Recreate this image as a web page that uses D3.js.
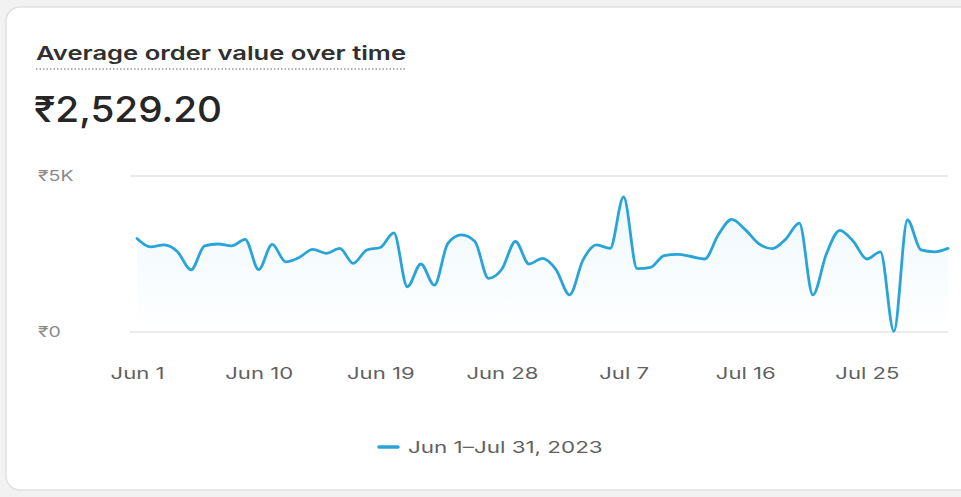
<!DOCTYPE html>
<html>
<head>
<meta charset="utf-8">
<script src="https://cdn.jsdelivr.net/npm/d3@7"></script>
<style>
  html, body { margin: 0; padding: 0; background: #f2f2f2; }
  svg { display: block; font-family: Inter, "Noto Sans", sans-serif; }
</style>
</head>
<body>
<svg id="chart" width="961" height="497"></svg>
<script>
// chart data
var title = 'Average order value over time';
var headline = '₹2,529.20';
var legendLabel = 'Jun 1–Jul 31, 2023';
var startDate = '2023-06-01';
var endDate = '2023-07-31';
var tickDates = ['2023-06-01', '2023-06-10', '2023-06-19', '2023-06-28', '2023-07-07', '2023-07-16', '2023-07-25'];
var yTicks = [0, 5000];
var yTickLabels = ['₹0', '₹5K'];
var orderValues = [
  3000, 2730, 2790, 2570, 1990, 2760, 2820, 2760, 2970, 2000,
  2810, 2250, 2390, 2650, 2520, 2680, 2200, 2630, 2710, 3180,
  1450, 2180, 1500, 2840, 3110, 2900, 1720, 2020, 2900, 2180,
  2360, 2000, 1190, 2310, 2790, 2680, 4330, 2030, 2070, 2450,
  2490, 2420, 2340, 3110, 3610, 3280, 2830, 2670, 2980, 3490,
  1190, 2500, 3260, 2900, 2340, 2570, 20, 3590, 2630, 2570,
  2680
];

var parse = d3.timeParse('%Y-%m-%d');
var days = d3.timeDay.range(parse(startDate), d3.timeDay.offset(parse(endDate), 1));
var data = days.map(function(d, i) { return {date: d, value: orderValues[i]}; });

var svg = d3.select('#chart');
var lineColor = '#29a4d9';

// the screenshot is wider than tall, so widen the glyphs to match
function stretch(sel, k) {
  sel.each(function() {
    var w = this.getComputedTextLength();
    d3.select(this).attr('textLength', w * k).attr('lengthAdjust', 'spacingAndGlyphs');
  });
}

// card
svg.append('rect')
  .attr('x', 6).attr('y', 7)
  .attr('width', 980).attr('height', 483)
  .attr('rx', 14)
  .attr('fill', '#fff')
  .attr('stroke', '#e1e1e1')
  .attr('stroke-width', 1.5);

// header
var t = svg.append('text')
  .attr('x', 36).attr('y', 60)
  .attr('font-size', 19).attr('font-weight', 600)
  .attr('fill', '#303030')
  .text(title)
  .attr('textLength', 370).attr('lengthAdjust', 'spacingAndGlyphs');
svg.append('line')
  .attr('x1', 36).attr('x2', 406)
  .attr('y1', 69).attr('y2', 69)
  .attr('stroke', '#9a9a9a').attr('stroke-width', 1.5)
  .attr('stroke-dasharray', '1.5,2');

svg.append('text')
  .attr('x', 34).attr('y', 122)
  .attr('font-size', 36).attr('font-weight', 500)
  .attr('fill', '#262626')
  .text(headline)
  .attr('textLength', 188).attr('lengthAdjust', 'spacingAndGlyphs');

// scales
var x = d3.scaleTime()
  .domain([parse(startDate), parse(endDate)])
  .range([137, 948]);
var y = d3.scaleLinear()
  .domain([0, 5000])
  .range([332, 176]);

// gridlines
svg.append('g')
  .selectAll('line')
  .data(yTicks)
  .enter().append('line')
  .attr('x1', 130).attr('x2', 948)
  .attr('y1', function(d) { return y(d); })
  .attr('y2', function(d) { return y(d); })
  .attr('stroke', '#ebebeb').attr('stroke-width', 2);

// y-axis
var yAxis = svg.append('g')
  .attr('transform', 'translate(38,0)')
  .call(d3.axisLeft(y).tickValues(yTicks).tickSize(0).tickPadding(0)
    .tickFormat(function(d, i) { return yTickLabels[i]; }));
yAxis.select('.domain').remove();
yAxis.selectAll('text')
  .attr('text-anchor', 'start')
  .attr('font-family', 'Inter, "Noto Sans", sans-serif')
  .attr('font-size', 15)
  .attr('fill', '#8a8a8a')
  .call(stretch, 1.3);

// x-axis
var xAxis = svg.append('g')
  .attr('transform', 'translate(0,368)')
  .call(d3.axisBottom(x).tickValues(tickDates.map(parse)).tickSize(0).tickPadding(0)
    .tickFormat(d3.timeFormat('%b %-d')));
xAxis.select('.domain').remove();
xAxis.selectAll('text')
  .attr('font-family', 'Inter, "Noto Sans", sans-serif')
  .attr('font-size', 16)
  .attr('fill', '#616161')
  .call(stretch, 1.38);

// area + line
var defs = svg.append('defs');
var grad = defs.append('linearGradient')
  .attr('id', 'fade').attr('x1', 0).attr('x2', 0).attr('y1', 0).attr('y2', 1);
grad.append('stop').attr('offset', '0%').attr('stop-color', lineColor).attr('stop-opacity', 0.08);
grad.append('stop').attr('offset', '100%').attr('stop-color', lineColor).attr('stop-opacity', 0);

var area = d3.area()
  .x(function(d) { return x(d.date); })
  .y0(y(0))
  .y1(function(d) { return y(d.value); })
  .curve(d3.curveMonotoneX);
svg.append('path')
  .datum(data)
  .attr('fill', 'url(#fade)')
  .attr('d', area);

var line = d3.line()
  .x(function(d) { return x(d.date); })
  .y(function(d) { return y(d.value); })
  .curve(d3.curveMonotoneX);
svg.append('path')
  .datum(data)
  .attr('fill', 'none')
  .attr('stroke', lineColor)
  .attr('stroke-width', 2.8)
  .attr('stroke-linejoin', 'round')
  .attr('stroke-linecap', 'round')
  .attr('d', line);

// legend
svg.append('line')
  .attr('x1', 379).attr('x2', 398)
  .attr('y1', 447).attr('y2', 447)
  .attr('stroke', lineColor).attr('stroke-width', 3.5)
  .attr('stroke-linecap', 'round');
svg.append('text')
  .attr('x', 408).attr('y', 453)
  .attr('font-size', 16)
  .attr('fill', '#616161')
  .text(legendLabel)
  .call(stretch, 1.4);
</script>
</body>
</html>
